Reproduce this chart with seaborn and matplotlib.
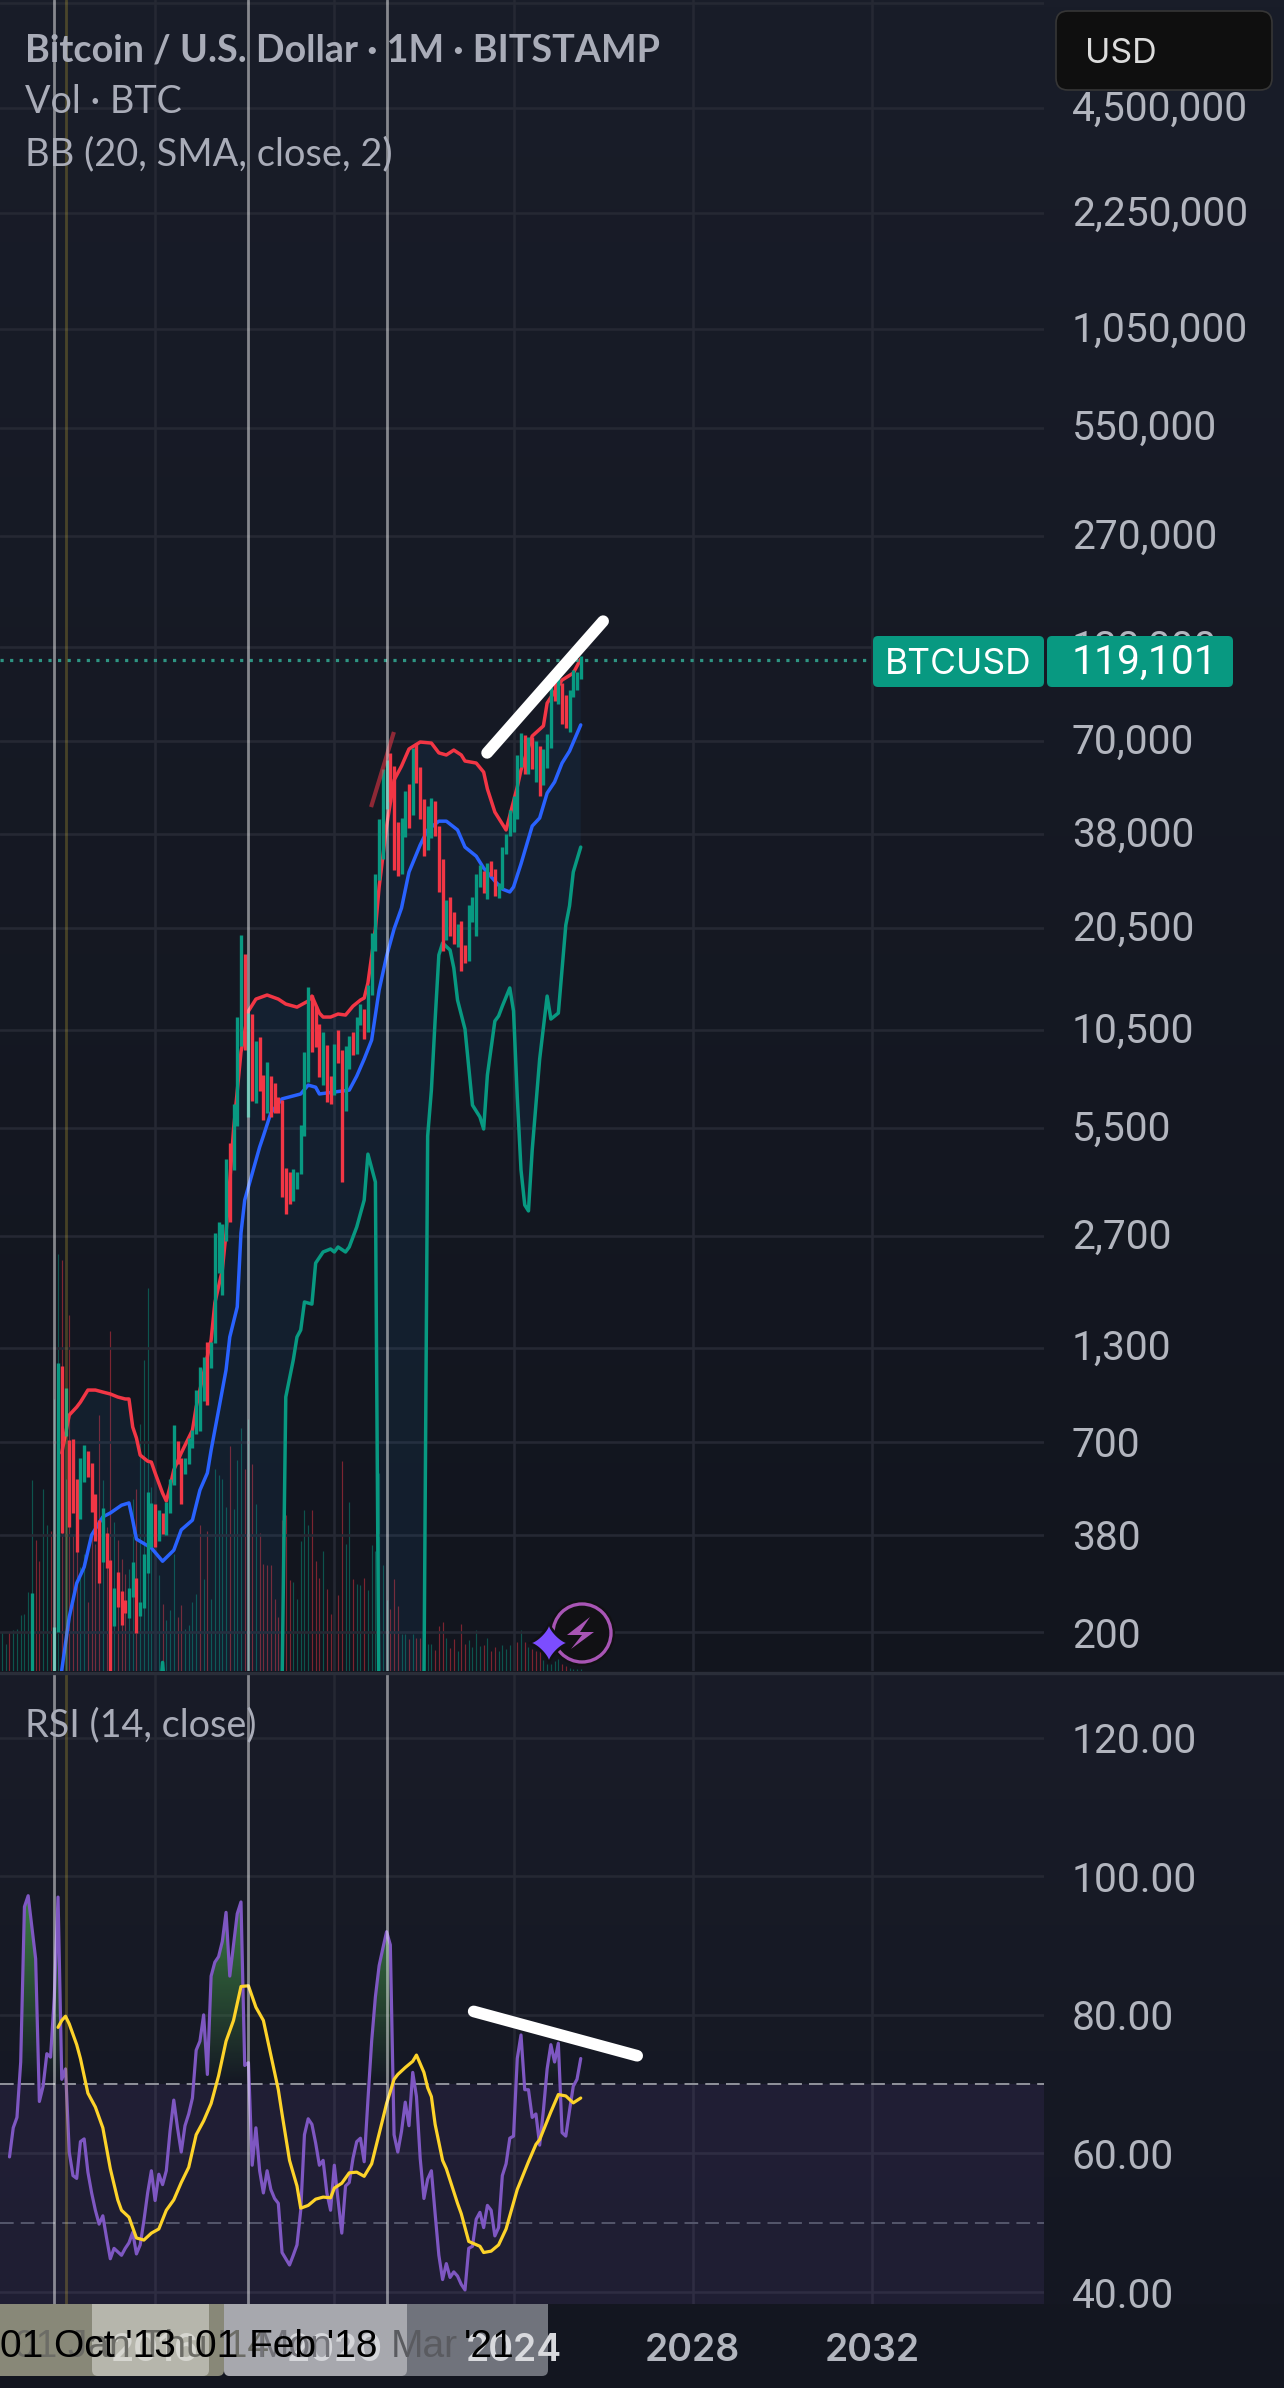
import numpy as np
import pandas as pd
import matplotlib
matplotlib.use("Agg")
import matplotlib.pyplot as plt
import seaborn as sns
from matplotlib.colors import LinearSegmentedColormap
from matplotlib.patches import Circle, FancyBboxPatch, Polygon
from matplotlib.path import Path
from matplotlib.transforms import ScaledTranslation

W, H = 1284, 2388

# ---- monthly candles, Apr 2013 .. Jul 2025, one row per calendar year -------
months = pd.period_range("2013-04", "2025-07", freq="M")
opens = [
    93, 139, 129, 97, 107, 135, 128, 198, 1129,
    755, 803, 550, 458, 445, 627, 640, 586, 478, 387, 338, 378,
    320, 217, 254, 244, 236, 230, 263, 284, 230, 236, 314, 378,
    430, 369, 437, 416, 448, 531, 674, 624, 574, 609, 700, 745,
    965, 970, 1190, 1080, 1350, 2300, 2420, 2870, 4700, 4340, 6440, 9900,
    13850, 10200, 10300, 6900, 9250, 7500, 6400, 7730, 7020, 6620, 6300, 4020,
    3740, 3430, 3820, 4100, 5270, 8560, 10800, 10080, 9580, 8290, 9150, 7540,
    7190, 9350, 8540, 6410, 8620, 9450, 9140, 11350, 11650, 10780, 13800, 19700,
    28990, 33100, 45200, 58800, 57700, 37300, 35050, 41500, 47100, 43800, 61300, 57000,
    46200, 38500, 43200, 45500, 37650, 31800, 19900, 23300, 20000, 19400, 20500, 17100,
    16600, 23100, 23100, 28500, 29200, 27200, 30500, 29200, 26000, 27000, 34500, 37700,
    42300, 42600, 61100, 71300, 60700, 67500, 62700, 66200, 59000, 63300, 70300, 96400,
    93400, 102400, 84300, 82500, 94200, 104600, 107100,
]
highs = [
    259, 148, 130, 112, 140, 140, 207, 1175, 1151,
    996, 708, 712, 547, 629, 685, 658, 608, 496, 418, 453, 384,
    321, 267, 297, 262, 247, 267, 317, 286, 244, 334, 503, 468,
    464, 447, 438, 471, 547, 781, 703, 629, 629, 717, 755, 983,
    1143, 1222, 1349, 1349, 2760, 2966, 2930, 4480, 4990, 6445, 11420, 19590,
    17300, 11720, 11650, 9750, 10000, 7800, 8490, 7740, 7400, 6750, 6600, 4230,
    4120, 4210, 4120, 5610, 9080, 13910, 13190, 12320, 10900, 10370, 9500, 7750,
    9550, 10500, 9200, 9470, 10070, 10380, 11450, 12480, 12070, 14100, 19800, 29300,
    41950, 58350, 61780, 64900, 59500, 41300, 42400, 50500, 52900, 67000, 69000, 59100,
    47900, 45800, 48200, 47400, 40000, 32300, 24600, 25200, 22800, 21100, 21500, 18400,
    23900, 25200, 29200, 31000, 29800, 31400, 31800, 30200, 27500, 35000, 38000, 44700,
    48900, 64000, 73800, 72800, 71900, 72000, 70000, 68000, 66500, 73600, 99800, 108300,
    109300, 102500, 95000, 97900, 112000, 110500, 123000,
]
lows = [
    50, 105, 89, 65, 105, 118, 110, 200, 384,
    727, 399, 438, 339, 421, 537, 555, 441, 364, 276, 317, 305,
    152, 208, 236, 210, 227, 220, 252, 199, 223, 234, 295, 350,
    351, 364, 381, 379, 438, 526, 604, 465, 566, 604, 671, 736,
    751, 914, 891, 1135, 1340, 2122, 1836, 2618, 2966, 4180, 5575, 9440,
    9190, 5920, 6570, 6490, 7020, 5800, 6080, 5920, 6080, 6080, 3500, 3120,
    3350, 3400, 3680, 4065, 5224, 7450, 9100, 9400, 7700, 7300, 6520, 6430,
    6850, 8450, 3850, 6150, 8100, 8900, 8970, 10850, 9880, 10370, 13200, 17600,
    28100, 32300, 44900, 47000, 30000, 28800, 29300, 37300, 39700, 43200, 53200, 41900,
    32900, 34300, 37100, 37600, 26000, 17600, 18900, 19500, 18500, 18100, 15500, 16300,
    16500, 21400, 19500, 26900, 25800, 24800, 28900, 25300, 24900, 26500, 33400, 37600,
    38500, 41900, 59100, 56500, 56500, 58500, 53500, 49000, 52500, 58900, 66800, 91300,
    89200, 78200, 76600, 74500, 93400, 98200, 105100,
]
closes = [
    139, 129, 97, 107, 135, 128, 198, 1129, 755,
    803, 550, 458, 445, 627, 640, 586, 478, 387, 338, 378, 320,
    217, 254, 244, 236, 230, 263, 284, 230, 236, 314, 378, 430,
    369, 437, 416, 448, 531, 674, 624, 574, 609, 700, 745, 965,
    970, 1190, 1080, 1350, 2300, 2420, 2870, 4700, 4340, 6440, 9900, 13850,
    10200, 10300, 6900, 9250, 7500, 6400, 7730, 7020, 6620, 6300, 4020, 3740,
    3430, 3820, 4100, 5270, 8560, 10800, 10080, 9580, 8290, 9150, 7540, 7190,
    9350, 8540, 6410, 8620, 9450, 9140, 11350, 11650, 10780, 13800, 19700, 28990,
    33100, 45200, 58800, 57700, 37300, 35050, 41500, 47100, 43800, 61300, 57000, 46200,
    38500, 43200, 45500, 37650, 31800, 19900, 23300, 20000, 19400, 20500, 17100, 16600,
    23100, 23100, 28500, 29200, 27200, 30500, 29200, 26000, 27000, 34500, 37700, 42300,
    42600, 61100, 71300, 60700, 67500, 62700, 66200, 59000, 63300, 70300, 96400, 93400,
    102400, 84300, 82500, 94200, 104600, 107100, 119101,
]
last_price = closes[-1]

# ---- volume (thousand BTC), Aug 2012 .. Jul 2025; U = up month, D = down month
volumes = [
    39, 27, 39, 41, 42, 56, 57, 79, 191, 131,
    110, 182, 146, 140, 272, 417, 411, 192, 356, 137,
    121, 104, 117, 69, 137, 127, 256, 191, 144, 340,
    149, 131, 112, 97, 102, 172, 182, 247, 311, 383,
    184, 109, 96, 67, 51, 61, 117, 54, 66, 42,
    46, 69, 77, 146, 92, 140, 72, 202, 196, 192,
    164, 225, 162, 211, 243, 202, 252, 207, 167, 138,
    107, 106, 106, 72, 54, 151, 156, 91, 89, 72,
    130, 161, 146, 161, 110, 93, 120, 82, 57, 89,
    76, 210, 127, 169, 92, 87, 86, 93, 81, 126,
    120, 198, 106, 71, 62, 92, 65, 37, 37, 32,
    37, 33, 33, 30, 27, 27, 21, 45, 49, 33,
    23, 32, 20, 47, 27, 31, 24, 41, 25, 26,
    33, 20, 24, 20, 26, 22, 26, 35, 29, 41,
    29, 24, 22, 20, 36, 11, 7, 7, 10, 12,
    7, 5, 3, 2, 2, 2,
]
volume_dir = (
    "UUDUUUUUUD" "DUUDUUDUDD" "DUUDDDDUDD" "UDDDUUDUUU" "UDUDUUUDDU"
    "UUUDUDUUUU" "UDUUUDUDUD" "DDDDDDDDUU" "UUUDDDUDDU" "DDUUDUUDUU"
    "UUUUDDDUUD" "UDDUUUDDDU" "DDUDDUUUUD" "UDDUUUUUDU" "DUDDDUUUUU"
    "DDUUUU"
)
volume_months = pd.period_range("2012-08", "2025-07", freq="M")

# ---- Bollinger band vertices: months counted from Oct 2013 ------------------
upper_month = [2, 4, 6, 7, 9, 11, 13, 15, 17, 19, 20, 21, 22, 23, 25, 26, 27, 29, 30, 31,
               32, 34, 37, 38, 40, 42, 43, 45, 46, 48, 50, 52, 54, 57, 60, 62, 65, 68, 69, 71,
               72, 74, 76, 78, 80, 82, 83, 84, 86, 87, 89, 91, 93, 95, 98, 101, 103, 105, 107, 109,
               110, 113, 115, 116, 118, 121, 124, 125, 128, 131, 132, 136, 139, 141]
upper_band = [650, 834, 879, 908, 983, 983, 970, 958, 939, 927, 927, 771, 717, 641, 616, 612, 570, 499, 474, 520,
              581, 650, 755, 879, 1099, 1365, 1742, 2163, 2760, 5430, 9070, 11880, 12850, 13200, 12850, 12440, 12190, 12690, 13110, 11720,
              11420, 11420, 11650, 11570, 12270, 12770, 12940, 14280, 20370, 26850, 40090, 54230, 59470, 66530, 69660, 69180, 64860, 63970, 66070, 63970,
              61480, 60670, 57150, 51170, 43950, 39080, 51800, 57940, 72440, 77450, 89950, 104700, 109600, 120200]

basis_month = [1, 2, 4, 6, 8, 10, 13, 15, 18, 20, 21, 22, 26, 29, 32, 34, 37, 39, 41, 42,
               43, 44, 46, 47, 49, 50, 51, 55, 56, 58, 61, 66, 68, 70, 71, 75, 79, 81, 83, 85,
               87, 89, 91, 93, 95, 98, 100, 103, 105, 108, 110, 113, 115, 118, 120, 122, 123, 125, 128, 130,
               132, 134, 136, 138, 141]
basis_band = [130, 156, 221, 276, 307, 379, 427, 438, 461, 468, 418, 369, 348, 319, 343, 392, 418, 509, 570, 662,
              755, 861, 1122, 1393, 1698, 2760, 3428, 4858, 5224, 6077, 6668, 6887, 7300, 7200, 6887, 6977, 7063, 7744, 8665, 9817,
              13640, 17050, 20370, 23390, 29620, 35400, 39080, 41400, 41400, 39080, 34910, 32890, 30410, 27930, 26490, 25990, 26850, 31260, 40090, 42270,
              49780, 53580, 60670, 65620, 77960]

lower_month = [2, 28, 29, 30, 60, 61, 62, 64, 65, 66, 67, 69, 70, 72, 74, 75, 76, 78, 79, 81,
               83, 84, 86, 87, 98, 99, 100, 101, 102, 103, 104, 106, 107, 108, 110, 112, 114, 115, 116, 118,
               119, 120, 122, 123, 124, 125, 126, 127, 128, 130, 132, 133, 135, 137, 138, 139, 141]
lower_band = [60, 120, 164, 120, 100, 140, 939, 1197, 1393, 1459, 1754, 1730, 2265, 2437, 2485, 2437, 2518, 2437, 2518, 2871,
              3428, 4637, 3860, 100, 100, 140, 5224, 7063, 11200, 17180, 18580, 17740, 15770, 12770, 10550, 6400, 5920, 5470, 7800, 11120,
              11500, 12270, 13830, 11880, 6750, 4180, 3319, 3192, 4764, 8665, 13110, 11270, 11720, 20900, 23710, 29620, 34910]

# ---- RSI(14) monthly, Oct 2012 .. Jul 2025 -----------------------------------
rsi_values = [
    59.5, 63.7, 65.2, 73.2, 95.6, 97.2, 92.6, 88.1, 67.5, 69.7, 74.4, 73.9,
    82.6, 97.0, 70.7, 72.2, 60.2, 56.8, 56.4, 61.7, 62.1, 57.3, 54.3, 51.8,
    49.8, 51.0, 47.8, 44.8, 46.3, 45.8, 45.3, 46.3, 47.1, 48.6, 45.5, 46.8,
    50.3, 54.3, 57.5, 53.2, 57.0, 55.5, 57.5, 63.2, 67.7, 63.7, 60.2, 64.0,
    65.7, 68.0, 74.9, 76.2, 80.0, 71.4, 85.6, 87.6, 88.4, 90.6, 94.8, 85.6,
    90.1, 94.6, 96.3, 72.7, 73.1, 58.3, 63.7, 57.5, 54.3, 57.5, 54.8, 53.5,
    52.8, 45.7, 44.8, 43.9, 45.3, 46.8, 51.8, 62.7, 65.0, 64.2, 61.5, 58.3,
    59.0, 54.3, 51.8, 58.3, 53.3, 48.5, 55.3, 55.8, 59.3, 61.7, 62.2, 58.8,
    67.7, 76.2, 82.6, 87.1, 89.6, 92.0, 90.1, 62.7, 60.2, 63.2, 67.4, 64.0,
    71.7, 68.2, 59.3, 53.5, 56.3, 57.5, 51.3, 45.3, 41.8, 44.1, 42.1, 42.9,
    42.3, 41.1, 40.3, 46.3, 46.6, 50.5, 51.5, 49.3, 52.5, 51.8, 48.1, 49.3,
    56.8, 58.5, 62.2, 62.5, 73.7, 77.1, 69.2, 69.2, 65.2, 65.7, 61.2, 66.2,
    72.2, 75.7, 73.2, 75.9, 63.0, 62.5, 66.2, 69.7, 70.7, 73.7,
]
rsi_months = pd.period_range("2012-10", "2025-07", freq="M")

rsi_ma_month = [1, 2, 3, 4, 6, 7, 9, 11, 13, 15, 17, 18, 20, 22, 24, 26, 28, 30, 32, 34,
                36, 38, 40, 42, 44, 46, 48, 50, 52, 54, 56, 59, 60, 61, 63, 65, 66, 68, 70, 72,
                74, 75, 77, 79, 81, 83, 85, 88, 89, 91, 92, 94, 96, 97, 99, 100, 101, 102, 104, 105,
                108, 109, 111, 114, 115, 117, 119, 121, 124, 127, 129, 130, 133, 135, 137, 139, 141]
rsi_ma = [78.2, 79.2, 79.8, 78.7, 75.7, 73.7, 68.7, 66.7, 63.7, 57.8, 53.3, 51.8, 50.8, 47.8, 47.5, 48.5, 49.1, 51.8, 53.3, 55.8,
          58.0, 62.7, 64.7, 67.2, 71.2, 76.2, 79.2, 84.1, 84.2, 81.1, 79.2, 71.7, 69.2, 65.7, 59.0, 55.3, 52.1, 52.5, 53.4, 53.7,
          53.6, 55.0, 55.7, 57.2, 57.3, 56.7, 58.5, 65.0, 67.2, 70.7, 71.4, 72.4, 73.3, 74.2, 71.7, 69.5, 68.2, 64.2, 59.0, 57.8,
          52.8, 51.3, 47.3, 46.6, 45.7, 45.9, 46.8, 49.1, 54.8, 58.8, 61.3, 62.0, 66.0, 68.5, 68.3, 67.3, 68.0]

# ---- axis ticks and annotations ---------------------------------------------
price_ticks = [9000000, 4500000, 2250000, 1050000, 550000, 270000, 130000, 70000,
               38000, 20500, 10500, 5500, 2700, 1300, 700, 380, 200]
price_labels = ["", "4,500,000", "2,250,000", "1,050,000", "550,000", "270,000", "130,000",
                "70,000", "38,000", "20,500", "10,500", "5,500", "2,700", "1,300", "700", "380", "200"]
rsi_ticks = [120, 100, 80, 60, 40]
rsi_tick_labels = ["120.00", "100.00", "80.00", "60.00", "40.00"]
year_ticks = [2016, 2020, 2024, 2028, 2032]
marked_dates = [2013.75, 2018 + 1 / 12, 2021 + 2 / 12]
olive_date = 2014.0
price_trend_x, price_trend_y = [2023.41, 2026.0], [64860, 154200]
faded_trend_x, faded_trend_y = [2020.82, 2021.33], [45420, 74400]
rsi_trend_x, rsi_trend_y = [2023.11, 2026.76], [80.5, 74.1]

TEAL, RED, BLUE = "#089981", "#f23645", "#2962ff"
PURPLE, YELLOW = "#7e57c2", "#fdd32a"
GRID = "#252833"
LABEL = "#b2b5be"
NUM_FAMILY = ["Roboto", "DejaVu Sans"]
CAPTION_FAMILY = ["Liberation Sans", "DejaVu Sans"]

sns.set_theme(style="dark", rc={"axes.grid": False})
plt.rcParams["font.family"] = ["Inter", "DejaVu Sans"]


def as_year(periods):
    return np.array([p.year + (p.month - 1) / 12 for p in periods])


def offset_year(month_offsets):
    return 2013.75 + np.asarray(month_offsets) / 12


def box(x0, y0, x1, y1):
    return [x0 / W, 1 - y1 / H, (x1 - x0) / W, (y1 - y0) / H]


fig = plt.figure(figsize=(W / 100, H / 100), dpi=100, facecolor="#131620")

# Backdrop: pane gradients and the crosshair highlight strip under the time scale.
ax_bg = fig.add_axes([0, 0, 1, 1], zorder=0)
ax_bg.set_axis_off()
shade = LinearSegmentedColormap.from_list("pane", ["#191d29", "#12151e"])
gradient = np.linspace(0, 1, 256).reshape(-1, 1)
ax_bg.imshow(gradient, extent=(0, W, 1672, 0), cmap=shade, aspect="auto", zorder=3)
ax_bg.imshow(gradient, extent=(0, W, 2304, 1672), cmap=LinearSegmentedColormap.from_list(
    "pane2", ["#191c28", "#141722"]), aspect="auto", zorder=3)
for x0, x1, colour in [(224, 548, "#70737c"), (-20, 224, "#888878"),
                       (92, 209, "#b6b6ac"), (224, 407, "#a7a8ae")]:
    ax_bg.add_patch(FancyBboxPatch((x0, 2280), x1 - x0, 96,
                                   boxstyle="round,pad=0,rounding_size=6",
                                   fc=colour, ec="none", zorder=1))
ax_bg.set_xlim(0, W)
ax_bg.set_ylim(H, 0)

xlim = (2012.538, 2035.84)

# Volume sits behind the price pane on its own linear scale.
ax_vol = fig.add_axes(box(0, 0, 1044, 1671), zorder=1)
ax_vol.patch.set_visible(False)
ax_vol.set_axis_off()
vx = as_year(volume_months)
ax_vol.vlines(vx, 0, volumes,
              colors=[TEAL if d == "U" else RED for d in volume_dir],
              linewidth=0.85, alpha=0.48)
ax_vol.set_xlim(xlim)
ax_vol.set_ylim(0, 1671)

# Price pane
ax = fig.add_axes(box(0, 0, 1044, 1671), zorder=2)
ax.patch.set_visible(False)
ax.set_yscale("log")
ax.set_xlim(xlim)
ax.set_ylim(155, 9.158e6)

ux, bx, lx = offset_year(upper_month), offset_year(basis_month), offset_year(lower_month)
ax.fill(np.r_[ux, lx[::-1]], np.r_[upper_band, lower_band[::-1]],
        color="#2196f3", alpha=0.07, lw=0, zorder=1)
sns.lineplot(x=ux, y=upper_band, ax=ax, color=RED, linewidth=2.5, zorder=2)
sns.lineplot(x=bx, y=basis_band, ax=ax, color=BLUE, linewidth=2.5, zorder=2)
sns.lineplot(x=lx, y=lower_band, ax=ax, color=TEAL, linewidth=2.5, zorder=2)

cx = as_year(months)
candle_colours = [TEAL if c >= o else RED for o, c in zip(opens, closes)]
ax.vlines(cx, lows, highs, colors=candle_colours, linewidth=2.4, zorder=3)

ax.plot(faded_trend_x, faded_trend_y, color=RED, alpha=0.55, lw=3, solid_capstyle="butt", zorder=4)
ax.plot(price_trend_x, price_trend_y, color="white", lw=8.4, solid_capstyle="round", zorder=6)
ax.plot([xlim[0], 2032.0], [last_price, last_price], color="#2e9583", lw=2.3,
        linestyle=(0, (1, 2)), zorder=2.5)

ax.set_yticks(price_ticks)
ax.set_yticklabels(price_labels, family=NUM_FAMILY)
ax.minorticks_off()
ax.yaxis.tick_right()
ax.set_xticks(year_ticks)
ax.tick_params(axis="x", length=0, labelbottom=False)
ax.tick_params(axis="y", length=0, pad=20, labelsize=29.3, labelcolor=LABEL)
# Labels with a comma sit a little high so their digits centre on the grid line.
lift = ScaledTranslation(0, 3 / 100, fig.dpi_scale_trans)
for label in ax.get_yticklabels():
    if "," in label.get_text():
        label.set_transform(label.get_transform() + lift)
ax.grid(True, color=GRID, linewidth=1.9, zorder=0)
ax.set_axisbelow(True)
ax.set_xlabel("")
ax.set_ylabel("")
for spine in ax.spines.values():
    spine.set_visible(False)

# RSI pane
ax_rsi = fig.add_axes(box(0, 1674, 1044, 2304), zorder=2)
ax_rsi.patch.set_visible(False)
ax_rsi.set_xlim(xlim)
ax_rsi.set_ylim(38.27, 129.2)
ax_rsi.axhspan(30, 70, color=PURPLE, alpha=0.11, lw=0, zorder=1)

rx = as_year(rsi_months)
rsi_arr = np.array(rsi_values)
above = ax_rsi.fill_between(rx, rsi_arr, 70, where=rsi_arr > 70, interpolate=True,
                            color="none", lw=0)
green = np.zeros((256, 1, 4))
green[..., :3] = (0.30, 0.69, 0.31)
green[..., 3] = np.linspace(0.0, 0.7, 256).reshape(-1, 1)
glow = ax_rsi.imshow(green, extent=(xlim[0], xlim[1], 70, 98), origin="lower", aspect="auto", zorder=1.5)
glow.set_clip_path(Path.make_compound_path(*above.get_paths()), transform=ax_rsi.transData)
ax_rsi.set_xlim(xlim)
ax_rsi.set_ylim(38.27, 129.2)

ax_rsi.axhline(70, color="#8d8f98", lw=1.45, linestyle=(0, (6.8, 3.5)), zorder=2)
ax_rsi.axhline(50, color="#53556a", lw=1.45, linestyle=(0, (6.8, 3.5)), zorder=2)
sns.lineplot(x=rx, y=rsi_values, ax=ax_rsi, color=PURPLE, linewidth=2.3, zorder=3)
sns.lineplot(x=offset_year(rsi_ma_month), y=rsi_ma, ax=ax_rsi, color=YELLOW, linewidth=2.3, zorder=4)
ax_rsi.plot(rsi_trend_x, rsi_trend_y, color="white", lw=8.4, solid_capstyle="round", zorder=6)

ax_rsi.set_yticks(rsi_ticks)
ax_rsi.set_yticklabels(rsi_tick_labels, family=NUM_FAMILY)
ax_rsi.yaxis.tick_right()
ax_rsi.set_xticks(year_ticks)
ax_rsi.set_xticklabels([str(y) for y in year_ticks])
ax_rsi.tick_params(axis="y", length=0, pad=20, labelsize=29.3, labelcolor=LABEL)
ax_rsi.tick_params(axis="x", length=0, pad=21, labelsize=27, labelcolor=LABEL)
for label, colour in zip(ax_rsi.get_xticklabels(), ["#d6d6d0", "#d5d6da", "#d8d9dd", LABEL, LABEL]):
    label.set_color(colour)
    label.set_fontweight("semibold")
ax_rsi.grid(True, color=GRID, linewidth=1.9, zorder=0)
ax_rsi.set_axisbelow(True)
ax_rsi.set_xlabel("")
ax_rsi.set_ylabel("")
for spine in ax_rsi.spines.values():
    spine.set_visible(False)

# Marked dates cross both panes.
for pane in (ax, ax_rsi):
    for date in marked_dates:
        pane.axvline(date, color="white", alpha=0.48, lw=2.0, zorder=5)
    pane.axvline(olive_date, color="#fdd835", alpha=0.22, lw=2.0, zorder=5)

# Overlay: pixel-placed legend text, price tag, currency selector, badge and date captions.
ui = fig.add_axes([0, 0, 1, 1], zorder=3)
ui.set_axis_off()
ui.patch.set_visible(False)
ui.set_xlim(0, W)
ui.set_ylim(H, 0)
ui.plot([0, W], [1672.5, 1672.5], color="#2a2e39", lw=2.4, zorder=1)

HEAD = "#a9acb8"
head_family = ["Lato", "DejaVu Sans"]
ui.text(25, 50, "Bitcoin / U.S. Dollar · 1M · BITSTAMP", color=HEAD, fontsize=27.2,
        fontweight="bold", family=head_family, va="center")
ui.text(25, 102, "Vol · BTC", color=HEAD, fontsize=27.2, family=head_family, va="center")
ui.text(25, 154, "BB (20, SMA, close, 2)", color=HEAD, fontsize=27.4, family=head_family, va="center")
ui.text(25, 1725, "RSI (14, close)", color=HEAD, fontsize=27.2, family=head_family, va="center")

ui.add_patch(FancyBboxPatch((873, 636), 171, 51, boxstyle="round,pad=0,rounding_size=5", fc=TEAL, ec="none"))
ui.add_patch(FancyBboxPatch((1047, 636), 186, 51, boxstyle="round,pad=0,rounding_size=5", fc=TEAL, ec="none"))
ui.text(958, 664, "BTCUSD", color="white", fontsize=25.5, ha="center", va="center")
ui.text(1072, 662, f"{last_price:,}", color="white", fontsize=29.3, family=NUM_FAMILY, ha="left", va="center")

ui.add_patch(FancyBboxPatch((1056, 11), 216, 79, boxstyle="round,pad=0,rounding_size=12",
                            fc="#0f0f0f", ec="#363636", lw=1.2))
ui.text(1085, 54, "USD", color="#dcdcdc", fontsize=24.5, va="center")

# Date captions printed over the time scale
ui.text(14, 2347, "01 Jan Thu '14", color="#6c6c66", fontsize=28, family=CAPTION_FAMILY, va="center")
ui.text(257, 2347, "Mon", color="#737379", fontsize=28, family=CAPTION_FAMILY, va="center")
ui.text(391, 2347, "Mar", color="#5a5b60", fontsize=28, family=CAPTION_FAMILY, va="center")
ui.text(0, 2347, "01 Oct '13", color="black", fontsize=28, family=CAPTION_FAMILY, va="center")
ui.text(195, 2347, "01 Feb '18", color="black", fontsize=28, family=CAPTION_FAMILY, va="center")
ui.text(515, 2347, "'21", color="black", fontsize=28, family=CAPTION_FAMILY, va="center", ha="right")

# Badge
ui.add_patch(Circle((582, 1633), 33, fc="#111114", ec="none", zorder=2))
ui.add_patch(Circle((582, 1633), 29, fc="#111114", ec="#a855b5", lw=2.4, zorder=3))
ui.add_patch(Polygon([(590, 1617), (567, 1635), (582, 1635), (571, 1649), (594, 1632), (580, 1632)],
                     closed=True, fc="#a855b5", ec="none", zorder=4))
t = np.linspace(0, 2 * np.pi, 120)
star_px = np.sign(np.cos(t)) * np.abs(np.cos(t)) ** 2.6
star_py = np.sign(np.sin(t)) * np.abs(np.sin(t)) ** 2.6
ui.add_patch(Polygon(np.c_[549 + 22 * star_px, 1643 + 22 * star_py], closed=True, fc="#111114", ec="none", zorder=5))
ui.add_patch(Polygon(np.c_[549 + 17 * star_px, 1643 + 17 * star_py], closed=True, fc="#7c4dff", ec="none", zorder=6))

fig.savefig("out.png", dpi=100, facecolor=fig.get_facecolor())
